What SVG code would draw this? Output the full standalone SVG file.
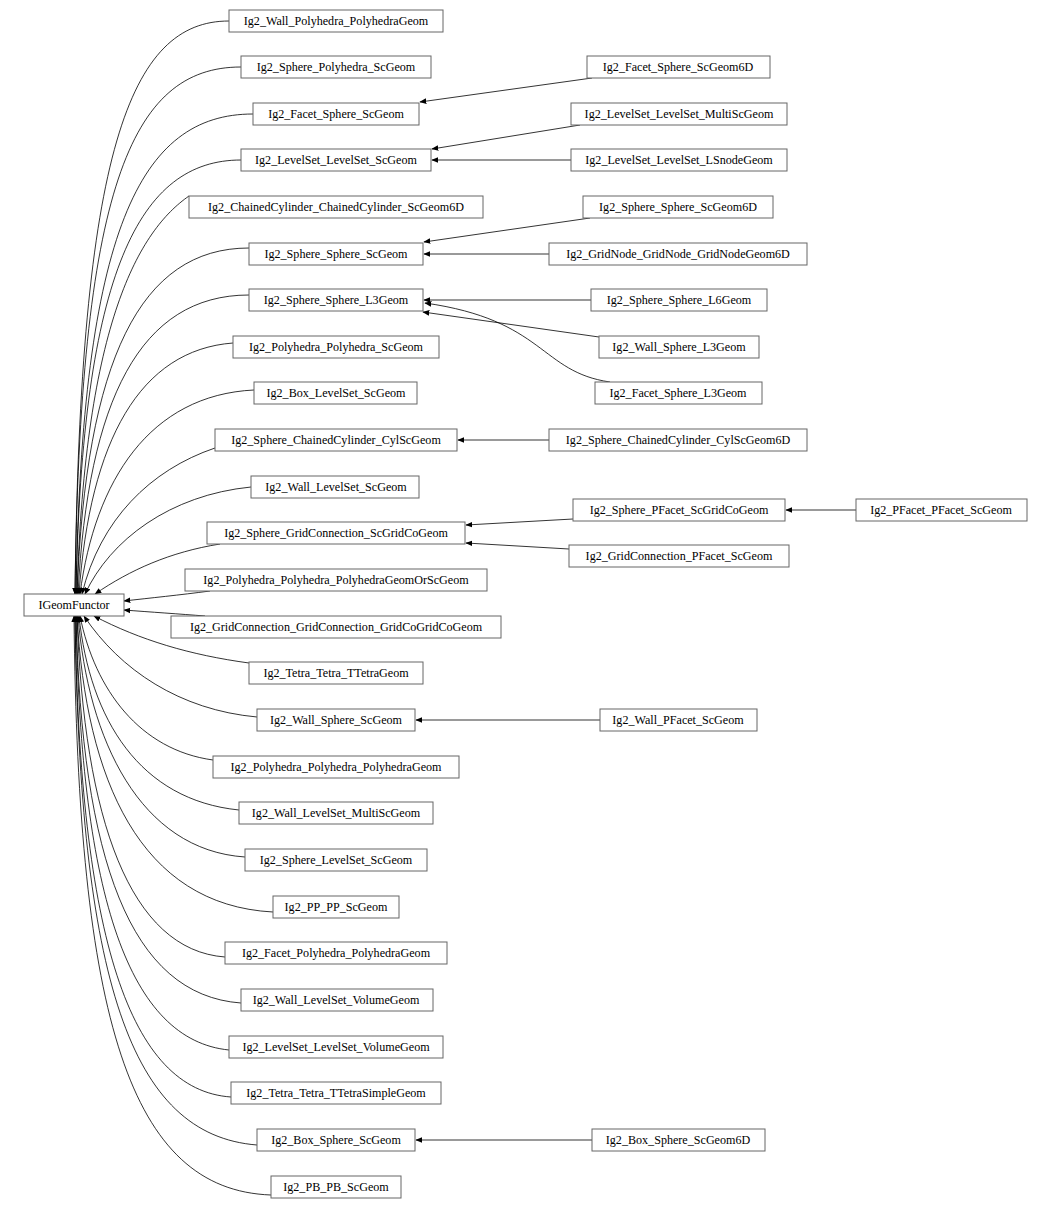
<svg xmlns="http://www.w3.org/2000/svg" width="1052" height="1210" viewBox="0 0 1052 1210">
<style>
rect{fill:#fff;stroke:#666;stroke-width:1}
text{font-family:"Liberation Serif","DejaVu Serif",serif;font-size:12.1px;text-anchor:middle;fill:#000}
.e path{fill:none;stroke:#000;stroke-width:0.8;marker-end:url(#a)}
</style>
<defs><marker id="a" viewBox="0 0 10 10" refX="9" refY="5" markerWidth="7" markerHeight="7" markerUnits="userSpaceOnUse" orient="auto"><path d="M0,1 L10,5 L0,9 z" fill="#000"/></marker></defs>
<rect x="0" y="0" width="1052" height="1210" style="stroke:none"/>
<g class="e">
<path d="M229,21 C130,21 80,150 75,594"/>
<path d="M241,67 C130,67 80,190 75,594"/>
<path d="M253,114 C140,114 82,230 76,594"/>
<path d="M241,160 C140,160 82,270 76,594"/>
<path d="M189,196 C140,230 85,320 77,594"/>
<path d="M249,248 C140,248 86,360 77,594"/>
<path d="M249,295 C140,295 88,400 78,594"/>
<path d="M233,343 C140,350 90,440 79,594"/>
<path d="M254,390 C150,395 95,480 80,594"/>
<path d="M215,448 C150,470 100,520 82,594"/>
<path d="M251,487 C170,495 110,540 85,594"/>
<path d="M220,544 C170,552 130,570 95,594"/>
<path d="M210,591 C180,595 150,598 124,601"/>
<path d="M205,616 C180,614 150,612 124,610"/>
<path d="M249,663 C190,655 140,640 94,616"/>
<path d="M257,717 C180,710 120,670 84,616"/>
<path d="M213,760 C140,750 95,690 80,616"/>
<path d="M239,810 C140,800 90,720 79,616"/>
<path d="M245,857 C140,850 88,740 78,616"/>
<path d="M273,912 C140,905 86,780 77,616"/>
<path d="M225,957 C130,950 84,820 77,616"/>
<path d="M241,1003 C130,995 82,860 76,616"/>
<path d="M229,1050 C130,1040 81,900 76,616"/>
<path d="M231,1097 C130,1090 80,940 75,616"/>
<path d="M257,1145 C130,1135 80,980 75,616"/>
<path d="M271,1195 C130,1190 78,1020 74,616"/>
<path d="M592,78 L420,102"/>
<path d="M580,125 L432,149"/>
<path d="M571,160 L432,160"/>
<path d="M590,218 L424,242"/>
<path d="M549,254 L424,254"/>
<path d="M591,300 L424,300"/>
<path d="M599,337 L423,312"/>
<path d="M610,382 C540,372 545,320 425,303"/>
<path d="M549,440 L458,440"/>
<path d="M573,519 L466,525"/>
<path d="M569,549 L466,543"/>
<path d="M856,510 L786,510"/>
<path d="M600,720 L416,720"/>
<path d="M592,1140 L416,1140"/>
</g>
<g id="IGeomFunctor"><rect x="24" y="594" width="100" height="22"/><text x="74" y="609">IGeomFunctor</text></g>
<g id="n1"><rect x="229" y="10" width="214" height="22"/><text x="336" y="25">Ig2_Wall_Polyhedra_PolyhedraGeom</text></g>
<g id="n2"><rect x="241" y="56" width="190" height="22"/><text x="336" y="71">Ig2_Sphere_Polyhedra_ScGeom</text></g>
<g id="n3"><rect x="253" y="103" width="166" height="22"/><text x="336" y="118">Ig2_Facet_Sphere_ScGeom</text></g>
<g id="n4"><rect x="241" y="149" width="190" height="22"/><text x="336" y="164">Ig2_LevelSet_LevelSet_ScGeom</text></g>
<g id="n5"><rect x="189" y="196" width="294" height="22"/><text x="336" y="211">Ig2_ChainedCylinder_ChainedCylinder_ScGeom6D</text></g>
<g id="n6"><rect x="249" y="243" width="174" height="22"/><text x="336" y="258">Ig2_Sphere_Sphere_ScGeom</text></g>
<g id="n7"><rect x="249" y="289" width="174" height="22"/><text x="336" y="304">Ig2_Sphere_Sphere_L3Geom</text></g>
<g id="n8"><rect x="233" y="336" width="206" height="22"/><text x="336" y="351">Ig2_Polyhedra_Polyhedra_ScGeom</text></g>
<g id="n9"><rect x="254" y="382" width="163" height="22"/><text x="336" y="397">Ig2_Box_LevelSet_ScGeom</text></g>
<g id="n10"><rect x="215" y="429" width="242" height="22"/><text x="336" y="444">Ig2_Sphere_ChainedCylinder_CylScGeom</text></g>
<g id="n11"><rect x="251" y="476" width="168" height="22"/><text x="336" y="491">Ig2_Wall_LevelSet_ScGeom</text></g>
<g id="n12"><rect x="207" y="522" width="258" height="22"/><text x="336" y="537">Ig2_Sphere_GridConnection_ScGridCoGeom</text></g>
<g id="n13"><rect x="185" y="569" width="302" height="22"/><text x="336" y="584">Ig2_Polyhedra_Polyhedra_PolyhedraGeomOrScGeom</text></g>
<g id="n14"><rect x="171" y="616" width="330" height="22"/><text x="336" y="631">Ig2_GridConnection_GridConnection_GridCoGridCoGeom</text></g>
<g id="n15"><rect x="249" y="662" width="174" height="22"/><text x="336" y="677">Ig2_Tetra_Tetra_TTetraGeom</text></g>
<g id="n16"><rect x="257" y="709" width="158" height="22"/><text x="336" y="724">Ig2_Wall_Sphere_ScGeom</text></g>
<g id="n17"><rect x="213" y="756" width="246" height="22"/><text x="336" y="771">Ig2_Polyhedra_Polyhedra_PolyhedraGeom</text></g>
<g id="n18"><rect x="239" y="802" width="194" height="22"/><text x="336" y="817">Ig2_Wall_LevelSet_MultiScGeom</text></g>
<g id="n19"><rect x="245" y="849" width="182" height="22"/><text x="336" y="864">Ig2_Sphere_LevelSet_ScGeom</text></g>
<g id="n20"><rect x="273" y="896" width="126" height="22"/><text x="336" y="911">Ig2_PP_PP_ScGeom</text></g>
<g id="n21"><rect x="225" y="942" width="222" height="22"/><text x="336" y="957">Ig2_Facet_Polyhedra_PolyhedraGeom</text></g>
<g id="n22"><rect x="241" y="989" width="192" height="22"/><text x="336" y="1004">Ig2_Wall_LevelSet_VolumeGeom</text></g>
<g id="n23"><rect x="229" y="1036" width="214" height="22"/><text x="336" y="1051">Ig2_LevelSet_LevelSet_VolumeGeom</text></g>
<g id="n24"><rect x="231" y="1082" width="210" height="22"/><text x="336" y="1097">Ig2_Tetra_Tetra_TTetraSimpleGeom</text></g>
<g id="n25"><rect x="257" y="1129" width="158" height="22"/><text x="336" y="1144">Ig2_Box_Sphere_ScGeom</text></g>
<g id="n26"><rect x="271" y="1176" width="130" height="22"/><text x="336" y="1191">Ig2_PB_PB_ScGeom</text></g>
<g id="r1"><rect x="587" y="56" width="183" height="22"/><text x="678" y="71">Ig2_Facet_Sphere_ScGeom6D</text></g>
<g id="r2"><rect x="571" y="103" width="216" height="22"/><text x="679" y="118">Ig2_LevelSet_LevelSet_MultiScGeom</text></g>
<g id="r3"><rect x="571" y="149" width="216" height="22"/><text x="679" y="164">Ig2_LevelSet_LevelSet_LSnodeGeom</text></g>
<g id="r4"><rect x="583" y="196" width="190" height="22"/><text x="678" y="211">Ig2_Sphere_Sphere_ScGeom6D</text></g>
<g id="r5"><rect x="549" y="243" width="258" height="22"/><text x="678" y="258">Ig2_GridNode_GridNode_GridNodeGeom6D</text></g>
<g id="r6"><rect x="591" y="289" width="176" height="22"/><text x="679" y="304">Ig2_Sphere_Sphere_L6Geom</text></g>
<g id="r7"><rect x="599" y="336" width="160" height="22"/><text x="679" y="351">Ig2_Wall_Sphere_L3Geom</text></g>
<g id="r8"><rect x="595" y="382" width="167" height="22"/><text x="678" y="397">Ig2_Facet_Sphere_L3Geom</text></g>
<g id="r9"><rect x="549" y="429" width="258" height="22"/><text x="678" y="444">Ig2_Sphere_ChainedCylinder_CylScGeom6D</text></g>
<g id="r10"><rect x="573" y="499" width="212" height="22"/><text x="679" y="514">Ig2_Sphere_PFacet_ScGridCoGeom</text></g>
<g id="r11"><rect x="569" y="545" width="220" height="22"/><text x="679" y="560">Ig2_GridConnection_PFacet_ScGeom</text></g>
<g id="r12"><rect x="600" y="709" width="157" height="22"/><text x="678" y="724">Ig2_Wall_PFacet_ScGeom</text></g>
<g id="r13"><rect x="592" y="1129" width="173" height="22"/><text x="678" y="1144">Ig2_Box_Sphere_ScGeom6D</text></g>
<g id="r14"><rect x="856" y="499" width="171" height="22"/><text x="941" y="514">Ig2_PFacet_PFacet_ScGeom</text></g>
</svg>
